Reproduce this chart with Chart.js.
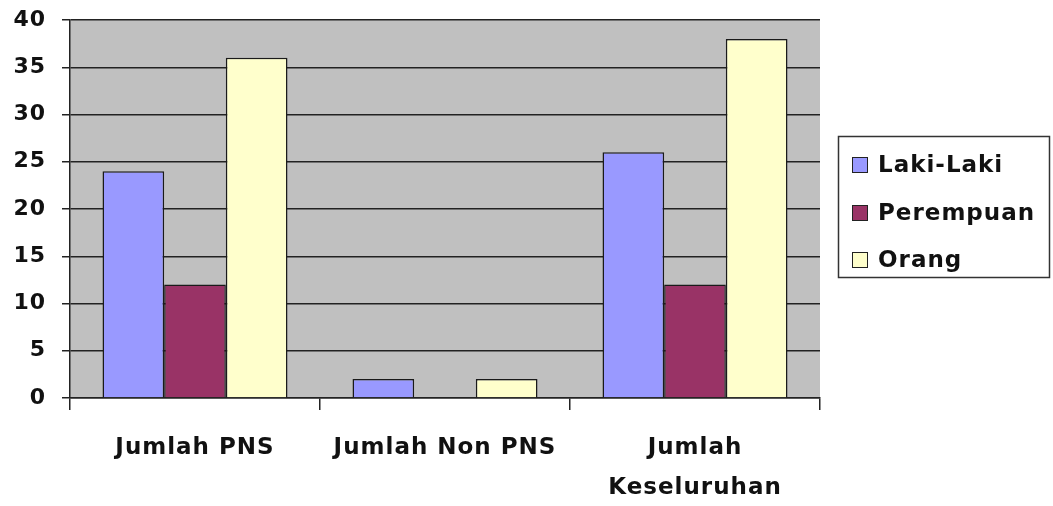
<!DOCTYPE html>
<html lang="id">
<head>
  <meta charset="UTF-8" />
  <title>Jumlah Pegawai</title>
  <script src="https://cdn.jsdelivr.net/npm/chart.js"></script>
  <style>
    * { margin: 0; padding: 0; box-sizing: border-box; }
    html, body { width: 1053px; height: 506px; background: #ffffff; overflow: hidden; }
    canvas { display: block; }
  </style>
</head>
<body>
  <canvas id="grafik" width="1053" height="506"></canvas>

  <script>
    // data
    const kategori = ['Jumlah PNS', 'Jumlah Non PNS', ['Jumlah', 'Keseluruhan']];
    const lakiLaki = [24, 2, 26];
    const perempuan = [12, 0, 12];
    const orang = [36, 2, 38];

    const FONT = "'DejaVu Sans', Verdana, sans-serif";
    const SPASI = '1px';

    // latar abu-abu area plot + spasi huruf
    const latarPlot = {
      id: 'latarPlot',
      beforeUpdate(chart) { chart.ctx.letterSpacing = SPASI; },
      beforeDraw(chart) {
        const { ctx, chartArea: a } = chart;
        ctx.letterSpacing = SPASI;
        ctx.save();
        ctx.fillStyle = '#c0c0c0';
        ctx.fillRect(a.left, a.top, a.right - a.left, a.bottom - a.top);
        ctx.restore();
      }
    };

    // legenda dengan kotak bingkai di kanan
    const legendaKotak = {
      id: 'legendaKotak',
      afterDraw(chart) {
        const ctx = chart.ctx;
        ctx.save();
        ctx.strokeStyle = '#333';
        ctx.lineWidth = 1.5;
        ctx.strokeRect(838.5, 136.5, 211, 141);
        const ys = [165, 213, 260];
        chart.data.datasets.forEach((ds, i) => {
          ctx.fillStyle = ds.backgroundColor;
          ctx.fillRect(852, ys[i] - 8, 16, 16);
          ctx.strokeStyle = '#222';
          ctx.lineWidth = 1;
          ctx.strokeRect(852.5, ys[i] - 7.5, 15, 15);
          ctx.fillStyle = '#111';
          ctx.font = 'bold 23px ' + FONT;
          ctx.letterSpacing = SPASI;
          ctx.textBaseline = 'middle';
          ctx.textAlign = 'left';
          ctx.fillText(ds.label, 878, ys[i] + 1);
        });
        ctx.restore();
      }
    };

    new Chart(document.getElementById('grafik'), {
      type: 'bar',
      data: {
        labels: kategori,
        datasets: [
          { label: 'Laki-Laki', data: lakiLaki, backgroundColor: '#9999ff', borderColor: '#1a1a1a', borderWidth: 1.5 },
          { label: 'Perempuan', data: perempuan, backgroundColor: '#993366', borderColor: '#1a1a1a', borderWidth: 1.5 },
          { label: 'Orang', data: orang, backgroundColor: '#ffffcc', borderColor: '#1a1a1a', borderWidth: 1.5 }
        ]
      },
      options: {
        responsive: false,
        animation: false,
        devicePixelRatio: 1,
        layout: { padding: { top: 20, right: 233, left: 0, bottom: 0 } },
        datasets: { bar: { categoryPercentage: 0.74, barPercentage: 1.0 } },
        plugins: {
          legend: { display: false },
          tooltip: { enabled: false }
        },
        scales: {
          x: {
            afterFit(scale) {
              scale.height = 108;
              scale.paddingLeft = 0;
              scale.paddingRight = 0;
            },
            grid: {
              offset: true,
              drawOnChartArea: false,
              drawTicks: true,
              tickLength: 12,
              color: '#222',
              lineWidth: 1.5
            },
            border: { color: '#222', width: 1.5 },
            ticks: {
              color: '#111',
              padding: 18,
              maxRotation: 0,
              font: { family: FONT, size: 23, weight: 'bold', lineHeight: 1.74 }
            }
          },
          y: {
            min: 0,
            max: 40,
            afterFit(scale) {
              scale.width = 70;
              scale.paddingTop = 0;
              scale.paddingBottom = 0;
            },
            grid: {
              color: '#222',
              lineWidth: 1.5,
              tickLength: 8
            },
            border: { color: '#222', width: 1.5 },
            ticks: {
              stepSize: 5,
              color: '#111',
              padding: 16,
              font: { family: FONT, size: 22, weight: 'bold' }
            }
          }
        }
      },
      plugins: [latarPlot, legendaKotak]
    });
  </script>
</body>
</html>
